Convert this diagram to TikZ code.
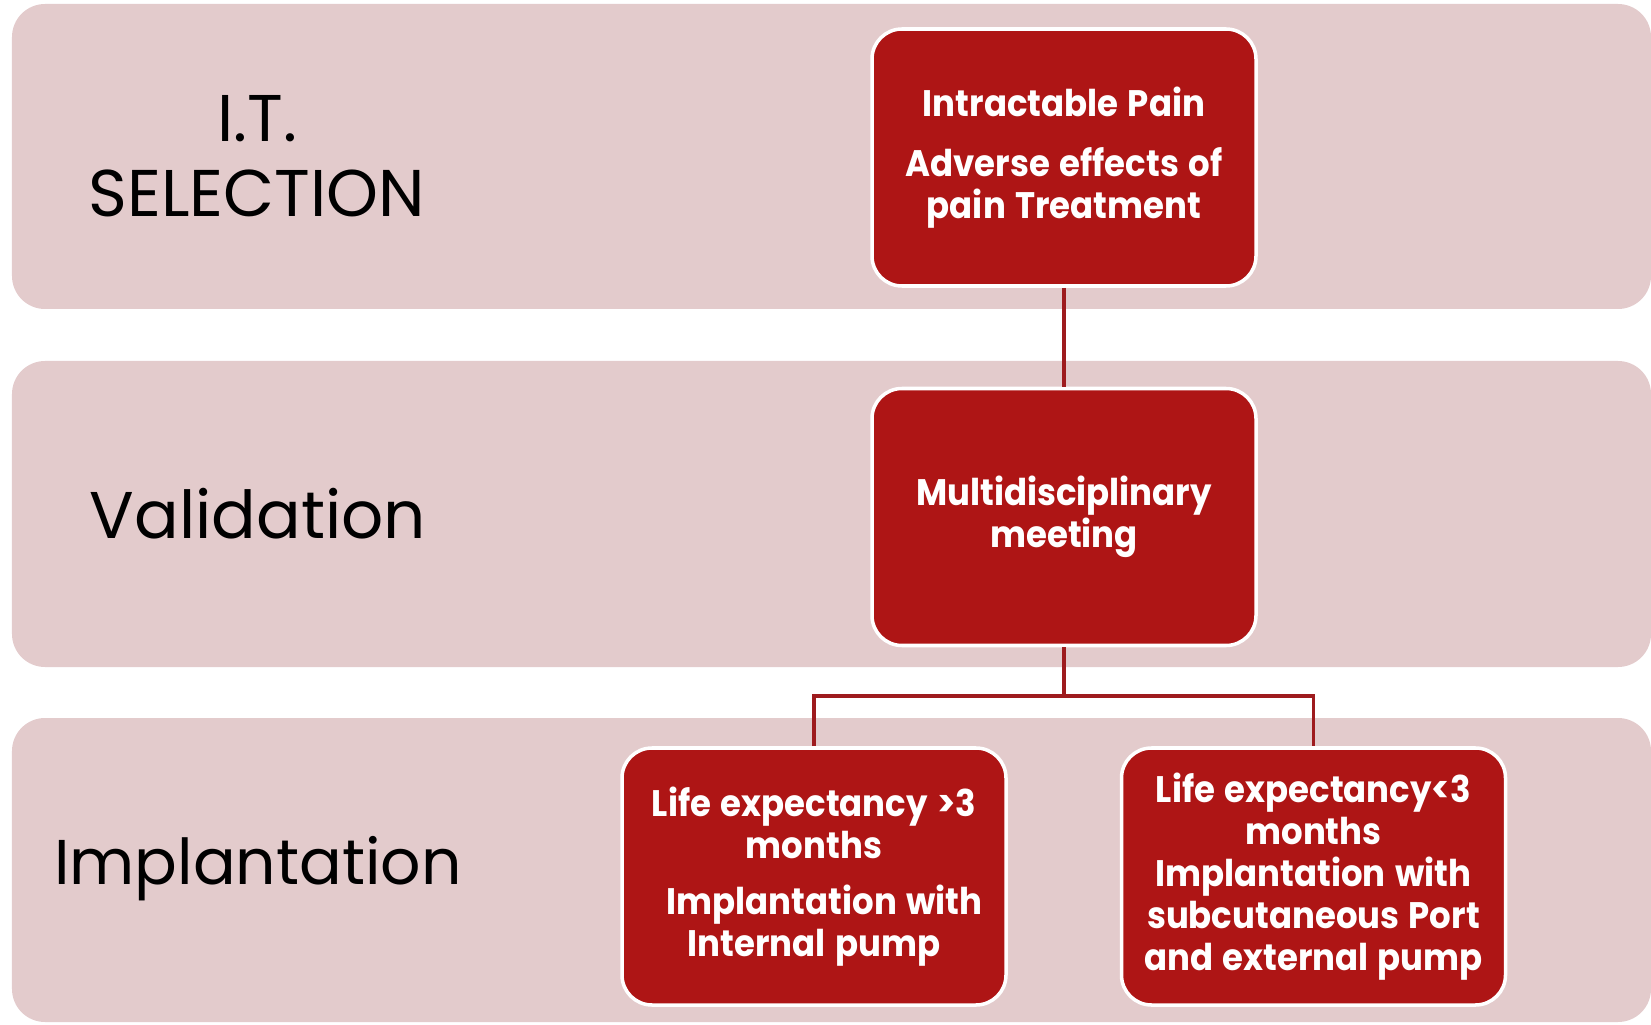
\documentclass[tikz,border=0pt]{standalone}
\usepackage{fontspec}
\setmainfont{Poppins}
\newfontfamily\boxfont{Poppins}[FakeStretch=0.92, WordSpace=1.3]
\definecolor{bandpink}{HTML}{E3CBCC}
\definecolor{boxred}{HTML}{AE1515}
\definecolor{linkred}{HTML}{9E1B1E}

\begin{document}
\begin{tikzpicture}[
  band/.style={fill=bandpink, rounded corners=0.33cm},
  stage/.style={align=center, font=\fontsize{18.8}{21.5}\selectfont},
  decision/.style={draw=white, line width=1pt, fill=boxred, rounded corners=0.3cm,
    minimum width=3.84cm, minimum height=2.57cm, align=center,
    text=white, font=\boxfont\bfseries\fontsize{10.5}{12}\selectfont},
  link/.style={draw=linkred, line width=0.9pt}]
\useasboundingbox (0,0) rectangle (16.51,10.24);

% the three stage bands
\fill[band] (0.12,7.15) rectangle (16.51,10.20);
\fill[band] (0.12,3.57) rectangle (16.51,6.63);
\fill[band] (0.12,0.02) rectangle (16.51,3.06);

\node[stage] (selection)  at (2.57,8.68) {I.T.\\SELECTION};
\node[stage] (validation) at (2.58,5.10) {Validation};
\node[stage, font=\fontsize{18}{21.5}\selectfont] (implant) at (2.58,1.55) {Implantation};

\coordinate (fork) at (10.64,3.28);

% boxes
\node[decision] (pain) at (10.64,8.665)
  {Intractable Pain\\[5pt] Adverse effects of\\ pain Treatment};
\node[decision] (meeting) at (10.64,5.07) {Multidisciplinary\\ meeting};
\node[decision] (long) at (8.14,1.475)
  {Life expectancy >3\\ months\\[4pt] \hspace*{6pt}Implantation with\\ Internal pump};
\node[decision] (short) at (13.135,1.475)
  {Life expectancy<3\\ months\\ Implantation with\\ subcutaneous Port\\ and external pump};

% connectors
\draw[link] (pain) -- (meeting);
\draw[link] (meeting) -- (fork);
\draw[link] (long.north) |- (fork) -| (short.north);
\end{tikzpicture}
\end{document}
